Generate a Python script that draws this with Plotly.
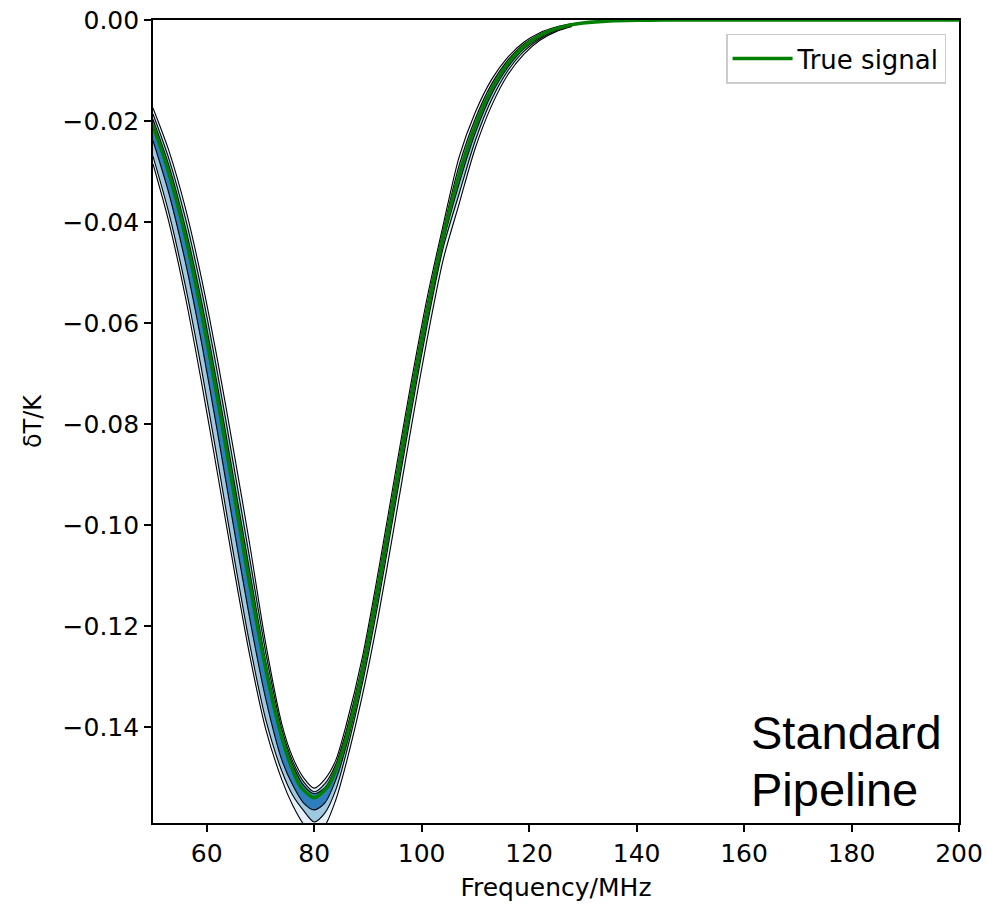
import plotly.graph_objects as go

# ---------------- data ----------------
freq = [50, 52.5, 55, 57.5, 60, 62.5, 65, 67.5, 70, 72.5, 75, 77.5, 80,
        82.5, 85, 87.5, 90, 92.5, 95, 97.5, 100, 102.5, 105, 107.5, 110,
        112.5, 115, 117.5, 120, 122.5, 125, 127.5, 130, 135, 140, 145, 150,
        160, 170, 180, 190, 200]
true_signal = [-0.02084, -0.02869, -0.03840, -0.05000, -0.06331, -0.07798, -0.09341,
               -0.10882, -0.12331, -0.13591, -0.14568, -0.15188, -0.15400,
               -0.15188, -0.14568, -0.13591, -0.12331, -0.10882, -0.09341, -0.07798,
               -0.06331, -0.05000, -0.03840, -0.02869, -0.02084,
               -0.01473, -0.01012, -0.00677, -0.00440, -0.00278, -0.00171, -0.00102,
               -0.00060, -0.00018, -0.00005, -0.000013, -0.000003,
               0.0, 0.0, 0.0, 0.0, 0.0]

freq_band = [50, 53, 56, 59, 62, 65, 68, 71, 74, 76, 78, 80, 82, 84, 86, 89, 92,
             95, 98, 101, 104, 107, 110, 113, 116, 119, 122, 125, 128]
lo3 = [-0.0285, -0.0402, -0.0547, -0.0716, -0.0898, -0.1083, -0.1258, -0.1405, -0.1505,
       -0.1555, -0.1592, -0.1612, -0.1595, -0.1545, -0.1470, -0.1336, -0.1177, -0.0996,
       -0.0810, -0.0633, -0.0475, -0.0363, -0.0253, -0.0170, -0.0109, -0.0068, -0.0040,
       -0.0023, -0.0013]
lo2 = [-0.0270, -0.0384, -0.0525, -0.0690, -0.0871, -0.1058, -0.1236, -0.1386, -0.1488,
       -0.1535, -0.1565, -0.1588, -0.1570, -0.1525, -0.1450, -0.1312, -0.1148, -0.0965,
       -0.0780, -0.0605, -0.0451, -0.0343, -0.0238, -0.0158, -0.0101, -0.0062, -0.0037,
       -0.0021, -0.0011]
lo1 = [-0.0239, -0.0345, -0.0478, -0.0637, -0.0816, -0.1003, -0.1185, -0.1345, -0.1466,
       -0.1515, -0.1550, -0.1564, -0.1550, -0.1505, -0.1436, -0.1299, -0.1133, -0.0950,
       -0.0765, -0.0592, -0.0440, -0.0323, -0.0223, -0.0147, -0.0094, -0.0057, -0.0034,
       -0.0019, -0.0010]
hi1 = [-0.0197, -0.0290, -0.0410, -0.0556, -0.0725, -0.0908, -0.1092, -0.1272, -0.1415,
       -0.1475, -0.1515, -0.1532, -0.1520, -0.1480, -0.1414, -0.1282, -0.1115, -0.0931,
       -0.0747, -0.0576, -0.0427, -0.0304, -0.0208, -0.0137, -0.0086, -0.0052, -0.0031,
       -0.0017, -0.0009]
hi2 = [-0.0186, -0.0276, -0.0391, -0.0533, -0.0699, -0.0881, -0.1066, -0.1253, -0.1405,
       -0.1468, -0.1508, -0.1528, -0.1512, -0.1474, -0.1406, -0.1273, -0.1103, -0.0919,
       -0.0735, -0.0565, -0.0417, -0.0287, -0.0195, -0.0127, -0.0080, -0.0048, -0.0028,
       -0.0016, -0.0008]
hi3 = [-0.0174, -0.0260, -0.0371, -0.0510, -0.0673, -0.0852, -0.1038, -0.1236, -0.1395,
       -0.1460, -0.1500, -0.1521, -0.1503, -0.1466, -0.1394, -0.1260, -0.1088, -0.0903,
       -0.0720, -0.0551, -0.0406, -0.0270, -0.0182, -0.0118, -0.0074, -0.0044, -0.0025,
       -0.0014, -0.0007]

x_ticks = [60, 80, 100, 120, 140, 160, 180, 200]
y_ticks = [0.0, -0.02, -0.04, -0.06, -0.08, -0.10, -0.12, -0.14]

# ---------------- figure ----------------
FONT = "DejaVu Sans"
fig = go.Figure()

bands = [
    (hi3, lo3, "#e8f1fa"),
    (hi2, lo2, "#9ecae1"),
    (hi1, lo1, "#2f7fc0"),
]
edge = dict(color="black", width=1.1, shape="spline", smoothing=0.8)
for hi, lo, col in bands:
    fig.add_trace(go.Scatter(x=freq_band, y=hi, mode="lines", line=edge,
                             showlegend=False, hoverinfo="skip"))
    fig.add_trace(go.Scatter(x=freq_band, y=lo, mode="lines", line=edge,
                             fill="tonexty", fillcolor=col,
                             showlegend=False, hoverinfo="skip"))

fig.add_trace(go.Scatter(x=freq, y=true_signal, mode="lines", name="True signal",
                         line=dict(color="green", width=3.5, shape="spline",
                                   smoothing=0.6)))

axis_common = dict(showgrid=False, zeroline=False, showline=True, linecolor="black",
                   linewidth=1.6, mirror=True, ticks="outside", ticklen=7,
                   tickwidth=1.5, tickcolor="black", automargin=False,
                   tickfont=dict(family=FONT, size=25, color="black"))

fig.update_xaxes(range=[50, 200], tickmode="array", tickvals=x_ticks,
                 ticktext=[str(v) for v in x_ticks],
                 title=dict(text="Frequency/MHz", standoff=12,
                            font=dict(family=FONT, size=25, color="black")),
                 **axis_common)
fig.update_yaxes(range=[-0.159, 0.0], tickmode="array", tickvals=y_ticks,
                 ticktext=[("\u2212" if v < 0 else "") + f"{abs(v):.2f}" for v in y_ticks],
                 title=dict(text="\u03b4T/K", standoff=14,
                            font=dict(family=FONT, size=24, color="black")),
                 **axis_common)

fig.add_annotation(xref="paper", yref="paper", x=0.739, y=0.1133, xanchor="left",
                   yanchor="middle", text="Standard", showarrow=False,
                   font=dict(family="Liberation Sans, Arial", size=47, color="black"))
fig.add_annotation(xref="paper", yref="paper", x=0.739, y=0.0417, xanchor="left",
                   yanchor="middle", text="Pipeline", showarrow=False,
                   font=dict(family="Liberation Sans, Arial", size=47, color="black"))

fig.update_layout(
    width=987, height=913,
    margin=dict(l=153, r=28, t=20, b=90, autoexpand=False),
    paper_bgcolor="white", plot_bgcolor="white",
    legend=dict(x=0.984, y=0.983, xanchor="right", yanchor="top",
                bgcolor="white", bordercolor="#cccccc", borderwidth=1.5,
                itemwidth=60,
                font=dict(family=FONT, size=26, color="black")),
)

fig.write_html("out.html")
